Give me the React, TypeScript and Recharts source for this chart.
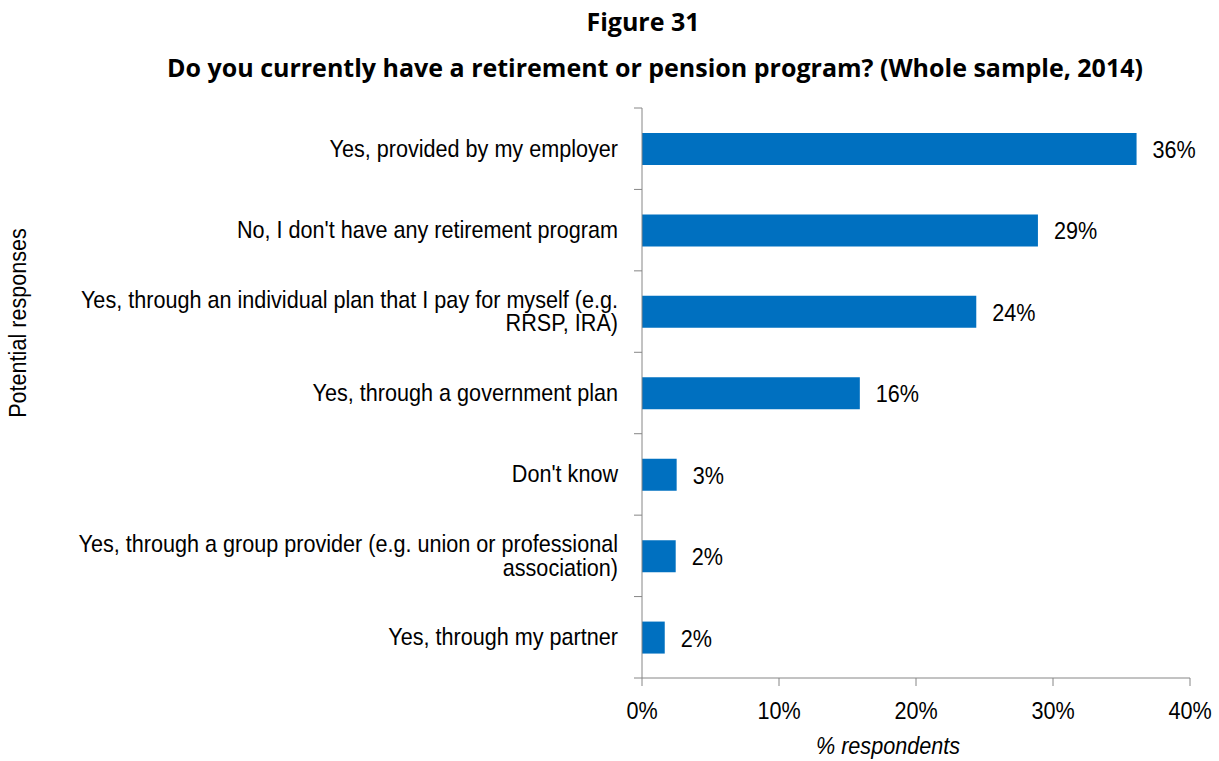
import React from "react";
import { BarChart, Bar, XAxis, YAxis, LabelList } from "recharts";

const categories = [
  "Yes, provided by my employer",
  "No, I don't have any retirement program",
  "Yes, through an individual plan that I pay for myself (e.g. RRSP, IRA)",
  "Yes, through a government plan",
  "Don't know",
  "Yes, through a group provider (e.g. union or professional association)",
  "Yes, through my partner",
];
const values = [36.1, 28.9, 24.4, 15.9, 2.53, 2.46, 1.66];
const xTicks = [0, 10, 20, 30, 40];

const data = categories.map((c, i) => ({ name: c, value: values[i] }));

const W = 1219;
const H = 761;
const AXIS_X = 642;
const PLOT_TOP = 108;
const PLOT_BOTTOM = 678;
const BAND = (PLOT_BOTTOM - PLOT_TOP) / categories.length;
const FONT = "'Liberation Sans', Arial, sans-serif";
const FS = 24;
const SX = 0.9;
const WRAP = 560;
const TITLE_FONT = "'Open Sans', sans-serif";

let ctx: CanvasRenderingContext2D | null = null;
function measure(s: string): number {
  if (!ctx) {
    const c = document.createElement("canvas");
    ctx = c.getContext("2d");
  }
  if (!ctx) return s.length * FS * 0.45;
  ctx.font = `${FS}px 'Liberation Sans', Arial, sans-serif`;
  return ctx.measureText(s).width * SX;
}

function wrap(s: string): string[] {
  const words = s.split(" ");
  const lines: string[] = [];
  let cur = "";
  for (const w of words) {
    const t = cur ? cur + " " + w : w;
    if (cur && measure(t) > WRAP) {
      lines.push(cur);
      cur = w;
    } else {
      cur = t;
    }
  }
  if (cur) lines.push(cur);
  return lines;
}

const NText = ({ x, y, anchor, children, italic }: any) => (
  <text
    transform={`translate(${x},${y}) scale(${SX},1)`}
    textAnchor={anchor}
    fontFamily={FONT}
    fontSize={FS}
    fontStyle={italic ? "italic" : "normal"}
    fill="#000"
  >
    {children}
  </text>
);

const YTick = (props: any) => {
  const { y, payload, index } = props;
  const lines = wrap(String(payload.value));
  const LH = 23.5;
  const firstBaseline = y - ((lines.length - 1) * LH) / 2 + 8;
  return (
    <g>
      <line x1={AXIS_X - 8} x2={AXIS_X} y1={y - BAND / 2} y2={y - BAND / 2} stroke="#868686" strokeWidth={1} />
      {index === categories.length - 1 && (
        <line x1={AXIS_X - 8} x2={AXIS_X} y1={y + BAND / 2} y2={y + BAND / 2} stroke="#868686" strokeWidth={1} />
      )}
      {lines.map((l, i) => (
        <NText key={i} x={AXIS_X - 24} y={firstBaseline + i * LH} anchor="end">
          {l}
        </NText>
      ))}
    </g>
  );
};

const XTick = (props: any) => {
  const { x, y, payload } = props;
  return (
    <NText x={x} y={y + 31} anchor="middle">
      {`${payload.value}%`}
    </NText>
  );
};

const BarLabel = (props: any) => {
  const { x, y, width, height, value } = props;
  return (
    <NText x={Number(x) + Number(width) + 16} y={Number(y) + Number(height) / 2 + 9} anchor="start">
      {`${Math.round(Number(value))}%`}
    </NText>
  );
};

export default function App() {
  return (
    <div style={{ position: "absolute", left: 0, top: 0, width: W, height: H, background: "#fff" }}>
      <div
        style={{
          position: "absolute",
          left: 643,
          top: 21,
          transform: "translate(-50%, -50%)",
          whiteSpace: "nowrap",
          fontFamily: TITLE_FONT,
          fontWeight: 700,
          fontSize: 25,
        }}
      >
        Figure 31
      </div>
      <div
        style={{
          position: "absolute",
          left: 655,
          top: 67,
          transform: "translate(-50%, -50%)",
          whiteSpace: "nowrap",
          fontFamily: TITLE_FONT,
          fontWeight: 700,
          fontSize: 25,
        }}
      >
        Do you currently have a retirement or pension program? (Whole sample, 2014)
      </div>
      <div style={{ position: "absolute", left: 0, top: 0 }}>
        <BarChart
          width={W}
          height={H}
          data={data}
          layout="vertical"
          margin={{ top: PLOT_TOP, right: W - 1190, left: 0, bottom: 0 }}
          barCategoryGap={0}
        >
          <XAxis
            type="number"
            domain={[0, 40]}
            ticks={xTicks}
            height={H - PLOT_BOTTOM}
            axisLine={{ stroke: "#868686" }}
            tickLine={{ stroke: "#868686" }}
            tickSize={8}
            tickMargin={2}
            tick={<XTick />}
            interval={0}
          />
          <YAxis
            type="category"
            dataKey="name"
            width={AXIS_X}
            axisLine={{ stroke: "#868686" }}
            tickLine={false}
            tick={<YTick />}
            interval={0}
          />
          <Bar dataKey="value" fill="#0070C0" barSize={32} isAnimationActive={false}>
            <LabelList dataKey="value" content={<BarLabel />} />
          </Bar>
        </BarChart>
      </div>
      <svg width={W} height={H} style={{ position: "absolute", left: 0, top: 0, pointerEvents: "none" }}>
        <g transform="translate(26,323) rotate(-90)">
          <NText x={0} y={0} anchor="middle">
            Potential responses
          </NText>
        </g>
        <NText x={888} y={754} anchor="middle" italic>
          % respondents
        </NText>
      </svg>
    </div>
  );
}
